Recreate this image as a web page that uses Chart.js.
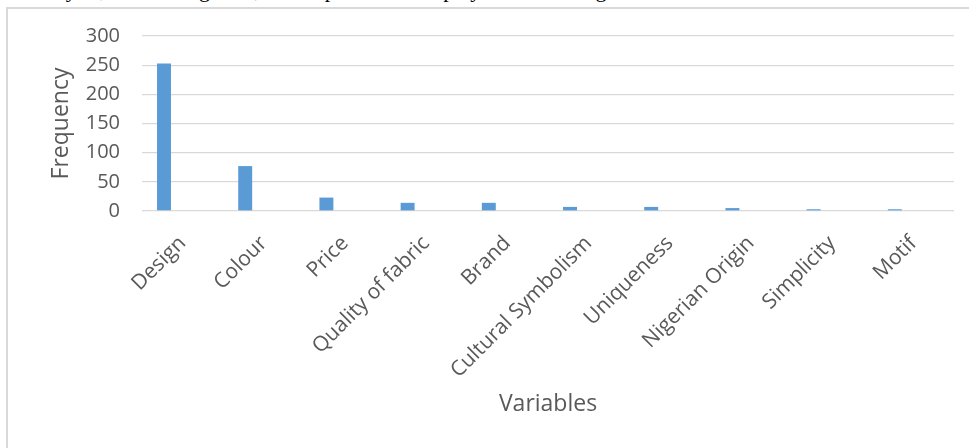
<!DOCTYPE html>
<html>
<head>
<meta charset="utf-8">
<script src="https://cdn.jsdelivr.net/npm/chart.js@4.4.1/dist/chart.umd.min.js"></script>
<style>
  html, body { margin: 0; padding: 0; background: #fff; width: 969px; height: 448px; overflow: hidden; }
  #topline { position: absolute; left: 0; top: 0; width: 969px; height: 7px; overflow: hidden; }
  #topline span { position: absolute; left: -2px; top: -23px; font-family: "Liberation Serif", serif; font-size: 22px; line-height: 26px; color: #000; white-space: nowrap; }
  #frame { position: absolute; left: 6px; top: 7px; width: 1000px; height: 1000px; border-left: 2px solid #d9d9d9; border-top: 2px solid #d9d9d9; box-sizing: border-box; }
  #wrap { position: absolute; left: 0; top: 0; width: 969px; height: 448px; }
</style>
</head>
<body>
<div id="topline"><span>ata analysis, refer to Figure 4, which presents a display of the findings recorded and</span></div>
<div id="frame"></div>
<div id="wrap"><canvas id="c" width="969" height="448"></canvas></div>
<script>
const categories = ["Design", "Colour", "Price", "Quality of fabric", "Brand", "Cultural Symbolism", "Uniqueness", "Nigerian Origin", "Simplicity", "Motif"];
const frequency = [253, 77, 23, 14, 14, 7, 7, 5, 3, 3];
const yTicks = [0, 50, 100, 150, 200, 250, 300];

const textColor = "#595959";
const gridColor = "#d9d9d9";
const barColor = "#5b9bd5";

new Chart(document.getElementById("c"), {
  type: "bar",
  data: {
    labels: categories,
    datasets: [
      { label: "Frequency", data: frequency, backgroundColor: barColor, borderWidth: 0 },
      { label: "", data: [], backgroundColor: barColor },
      { label: "", data: [], backgroundColor: barColor }
    ]
  },
  options: {
    responsive: false,
    animation: false,
    events: [],
    categoryPercentage: 0.687,
    barPercentage: 0.75,
    layout: { padding: { left: 0, right: 15, top: 36, bottom: 0 } },
    plugins: { legend: { display: false }, tooltip: { enabled: false } },
    scales: {
      x: {
        grid: { display: false },
        border: { display: false },
        ticks: {
          color: textColor,
          font: { family: "Open Sans", size: 21 },
          minRotation: 45, maxRotation: 45,
          autoSkip: false,
          padding: 12
        },
        title: {
          display: true, text: "Variables", color: textColor,
          font: { family: "Open Sans", size: 23 },
          padding: { top: 0, bottom: 30 }
        },
        afterFit: s => { s.height = 448 - 211; }
      },
      y: {
        min: 0, max: 300,
        afterBuildTicks: s => { s.ticks = yTicks.map(v => ({ value: v })); },
        grid: { color: gridColor, lineWidth: 1.3, drawTicks: false },
        border: { display: false },
        ticks: {
          color: textColor,
          font: { family: "Open Sans", size: 20 },
          padding: 22
        },
        title: {
          display: true, text: "Frequency", color: textColor,
          font: { family: "Open Sans", size: 23 },
          padding: { top: 48, bottom: 0 }
        },
        afterFit: s => { s.width = 142; }
      }
    }
  }
});
</script>
</body>
</html>
